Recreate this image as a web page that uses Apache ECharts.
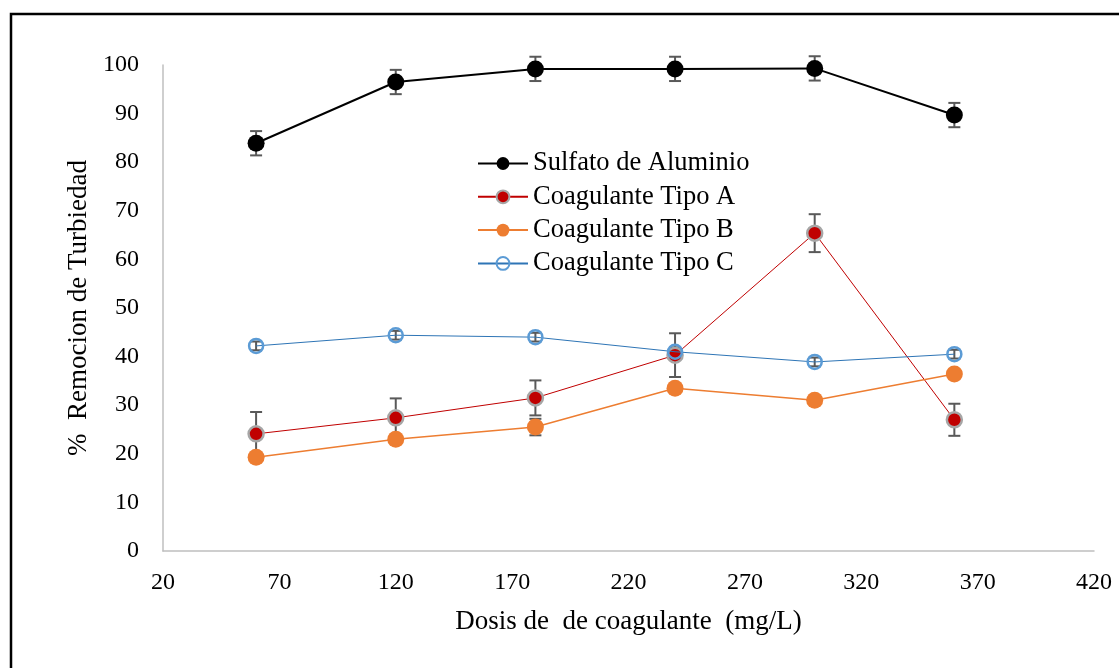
<!DOCTYPE html>
<html><head><meta charset="utf-8">
<script src="https://cdn.jsdelivr.net/npm/echarts@6/dist/echarts.min.js"></script>
<style>html,body{margin:0;padding:0;background:#fff}#c{width:1119px;height:668px}</style>
</head><body><div id="c"></div>
<script>
const doses = [60, 120, 180, 240, 300, 360];
const xTicks = [20, 70, 120, 170, 220, 270, 320, 370, 420];
const sulfato = [83.9, 96.5, 99.2, 99.2, 99.3, 89.7];
const sulfatoErr = [2.5, 2.5, 2.5, 2.5, 2.5, 2.5];
const tipoA = [24.1, 27.4, 31.5, 40.3, 65.4, 27.0];
const tipoAErr = [4.5, 4.0, 3.6, 4.5, 3.9, 3.3];
const tipoB = [19.3, 23.0, 25.5, 33.5, 31.0, 36.4];
const tipoBErr = [0.5, 0.5, 1.7, 0.5, 0.5, 0.5];
const tipoC = [42.2, 44.4, 44.0, 41.0, 38.9, 40.5];
const tipoCErr = [0.9, 0.9, 0.9, 0.9, 0.9, 0.9];
const names = ['Sulfato de Aluminio', 'Coagulante Tipo A', 'Coagulante Tipo B', 'Coagulante Tipo C'];

const FONT = "'Liberation Serif','Times New Roman',serif";
const pts = v => doses.map((d, i) => [d, v[i]]);
const errData = (v, e) => doses.map((d, i) => [d, v[i] - e[i], v[i] + e[i]]);

function errSeries(v, e, id) {
  return {
    type: 'custom', name: 'err' + id, z: 1,
    data: errData(v, e),
    renderItem: function (params, api) {
      const x = api.value(0);
      const lo = api.coord([x, api.value(1)]);
      const hi = api.coord([x, api.value(2)]);
      const w = 6;
      const st = { stroke: '#595959', lineWidth: 2 };
      return { type: 'group', children: [
        { type: 'line', shape: { x1: lo[0], y1: lo[1], x2: hi[0], y2: hi[1] }, style: st },
        { type: 'line', shape: { x1: lo[0] - w, y1: lo[1], x2: lo[0] + w, y2: lo[1] }, style: st },
        { type: 'line', shape: { x1: hi[0] - w, y1: hi[1], x2: hi[0] + w, y2: hi[1] }, style: st }
      ]};
    }
  };
}

const chart = echarts.init(document.getElementById('c'));
chart.setOption({
  animation: false,
  backgroundColor: '#fff',
  textStyle: { fontFamily: FONT },
  graphic: [{
    type: 'rect', silent: true, z: 100,
    shape: { x: 11, y: 14, width: 1300, height: 900 },
    style: { fill: 'none', stroke: '#000', lineWidth: 2.5 }
  }],
  grid: { left: 163, right: 25, top: 65, bottom: 117 },
  legend: {
    data: names, orient: 'vertical', left: 477, top: 150, padding: 0,
    itemWidth: 50, itemHeight: 16, itemGap: 6.3,
    textStyle: { fontFamily: FONT, fontSize: 26.5, color: '#000', lineHeight: 27 }
  },
  xAxis: {
    type: 'value', min: 20, max: 420,
    splitLine: { show: false },
    axisLine: { lineStyle: { color: '#BFBFBF', width: 1.5 } },
    axisTick: { show: false },
    axisLabel: { customValues: xTicks, fontFamily: FONT, fontSize: 24, color: '#000', margin: 20 },
    name: 'Dosis de  de coagulante  (mg/L)', nameLocation: 'middle', nameGap: 57,
    nameTextStyle: { fontFamily: FONT, fontSize: 27, color: '#000' }
  },
  yAxis: {
    type: 'value', min: 0, max: 100, interval: 10,
    splitLine: { show: false },
    axisLine: { show: true, lineStyle: { color: '#BFBFBF', width: 1.5 } },
    axisTick: { show: false },
    axisLabel: { fontFamily: FONT, fontSize: 24, color: '#000', margin: 24 },
    name: '%  Remocion de Turbiedad', nameLocation: 'middle', nameGap: 71, nameRotate: 90,
    nameTextStyle: { fontFamily: FONT, fontSize: 27, color: '#000' }
  },
  series: [
    errSeries(sulfato, sulfatoErr, 0),
    errSeries(tipoA, tipoAErr, 1),
    errSeries(tipoB, tipoBErr, 2),
    errSeries(tipoC, tipoCErr, 3),
    { type: 'line', name: names[0], data: pts(sulfato), z: 3,
      symbol: 'circle', symbolSize: 17,
      lineStyle: { color: '#000', width: 2 },
      itemStyle: { color: '#000', borderColor: '#000', borderWidth: 0 } },
    { type: 'line', name: names[1], data: pts(tipoA), z: 4,
      symbol: 'circle', symbolSize: 15,
      lineStyle: { color: '#C00000', width: 1 },
      itemStyle: { color: '#C00000', borderColor: '#A6A6A6', borderWidth: 2.5 } },
    { type: 'line', name: names[2], data: pts(tipoB), z: 5,
      symbol: 'circle', symbolSize: 17,
      lineStyle: { color: '#ED7D31', width: 1.5 },
      itemStyle: { color: '#ED7D31', borderColor: '#ED7D31', borderWidth: 0 } },
    { type: 'line', name: names[3], data: pts(tipoC), z: 6,
      symbol: 'circle', symbolSize: 14,
      lineStyle: { color: '#2E75B6', width: 1 },
      itemStyle: { color: 'rgba(255,255,255,0)', borderColor: '#5B9BD5', borderWidth: 2.5 } }
  ]
});
</script></body></html>
